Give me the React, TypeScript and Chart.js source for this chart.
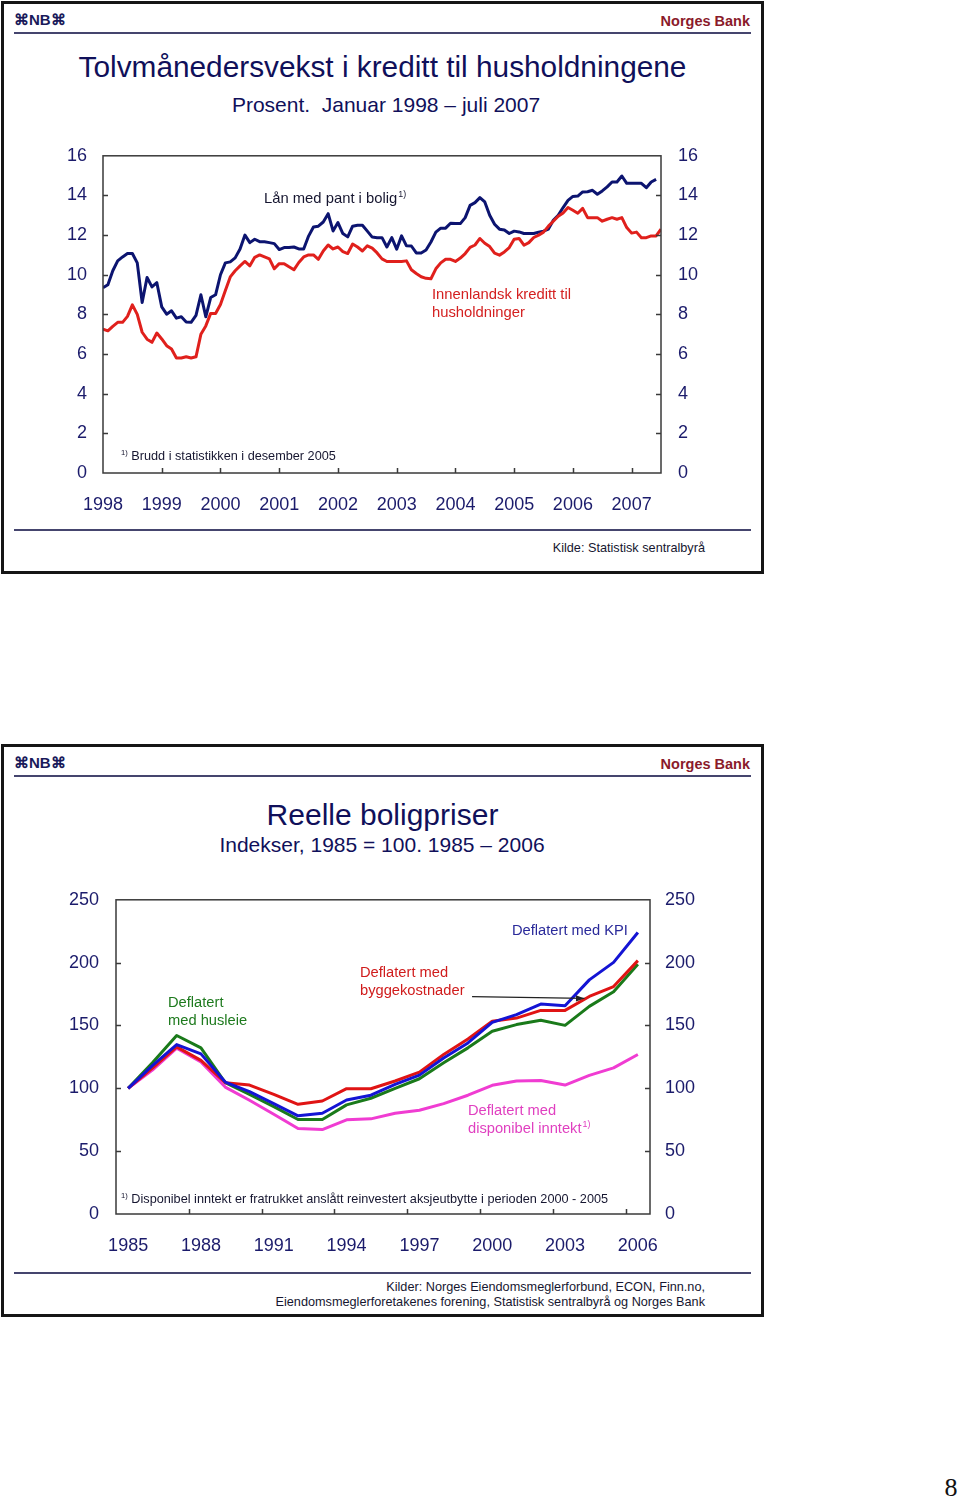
import React, { useEffect, useRef } from "react";
import { Chart, registerables } from "chart.js";

Chart.register(...registerables);

// ---------- Chart 1: twelve-month credit growth, Jan 1998 – Jul 2007 (monthly) ----------
const MONTH_INDEX = Array.from({ length: 115 }, (_, i) => i); // months since Jan 1998
const YEAR_LABELS_1 = ["1998", "1999", "2000", "2001", "2002", "2003", "2004", "2005", "2006", "2007"];
const YEAR_TICKS_1 = [0, 12, 24, 36, 48, 60, 72, 84, 96, 108];
const Y_TICKS_1 = [0, 2, 4, 6, 8, 10, 12, 14, 16];

// Lån med pant i bolig
const LAAN = [
  9.35, 9.5, 10.2, 10.7, 10.9, 11.07, 11.07, 10.6, 8.6, 9.86, 9.39, 9.6,
  8.38, 8.01, 8.18, 7.81, 7.88, 7.62, 7.6, 7.95, 8.99, 7.88, 8.85, 8.99,
  10.0, 10.6, 10.65, 10.85, 11.3, 12.0, 11.62, 11.79, 11.67, 11.66, 11.62, 11.57,
  11.27, 11.37, 11.37, 11.4, 11.3, 11.3, 11.95, 12.41, 12.45, 12.66, 13.08, 12.21,
  12.63, 12.08, 11.91, 12.45, 12.5, 12.5, 12.2, 11.9, 11.87, 11.87, 11.4, 11.87,
  11.29, 11.96, 11.46, 11.45, 11.1, 11.1, 11.25, 11.65, 12.15, 12.35, 12.35, 12.6,
  12.58, 12.58, 12.88, 13.5, 13.64, 13.89, 13.67, 13.0, 12.55, 12.3, 12.26, 12.08,
  12.2, 12.16, 12.08, 12.08, 12.08, 12.15, 12.2, 12.3, 12.75, 13.0, 13.39, 13.75,
  13.95, 13.97, 14.18, 14.19, 14.26, 14.06, 14.23, 14.43, 14.68, 14.68, 14.98, 14.61,
  14.61, 14.61, 14.61, 14.39, 14.68, 14.81, null,
];

// Innenlandsk kreditt til husholdninger
const KREDITT = [
  7.26, 7.17, 7.4, 7.6, 7.6, 7.9, 8.48, 8.0, 7.1, 6.75, 6.59, 7.06,
  6.76, 6.42, 6.25, 5.8, 5.8, 5.86, 5.8, 5.86, 7.0, 7.42, 8.05, 8.05,
  8.5, 9.2, 9.89, 10.2, 10.45, 10.67, 10.45, 10.88, 11.0, 10.9, 10.8, 10.3,
  10.56, 10.56, 10.4, 10.25, 10.62, 10.9, 11.0, 11.0, 10.78, 11.2, 11.5, 11.3,
  11.4, 11.17, 11.07, 11.55, 11.4, 11.2, 11.46, 11.34, 11.1, 10.8, 10.67, 10.67,
  10.67, 10.67, 10.7, 10.25, 10.06, 9.9, 9.82, 9.8, 10.3, 10.6, 10.78, 10.78,
  10.67, 10.84, 11.07, 11.38, 11.5, 11.83, 11.59, 11.42, 11.09, 10.99, 11.15, 11.37,
  11.79, 11.83, 11.49, 11.62, 11.88, 12.0, 12.15, 12.45, 12.7, 12.95, 13.12, 13.39,
  13.25, 13.1, 13.35, 12.88, 12.88, 12.88, 12.7, 12.8, 12.88, 12.8, 12.88, 12.38,
  12.1, 12.15, 11.87, 11.87, 11.96, 11.96, 12.3,
];

// ---------- Chart 2: real house prices, 1985–2006 (annual) ----------
const YEARS_2 = [
  "1985", "1986", "1987", "1988", "1989", "1990", "1991", "1992", "1993", "1994", "1995",
  "1996", "1997", "1998", "1999", "2000", "2001", "2002", "2003", "2004", "2005", "2006",
];
const YEAR_LABEL_EVERY = 3;
const X_TICK_BOUNDS_2 = [2.5, 5.5, 8.5, 11.5, 14.5, 17.5, 20.5];
const Y_TICKS_2 = [50, 100, 150, 200];

const KPI = [100, 118, 134.8, 127.4, 105, 97.3, 87.8, 78.1, 80.2, 90.7, 94.5, 103.2, 110.5, 124.2, 136.1, 152.5, 158.6, 167, 165.7, 186.3, 200.2, 224];
const BYGG = [100, 116, 133, 122.2, 104.5, 102.6, 95.2, 87.3, 89.9, 99.7, 99.7, 105.8, 112.9, 126.9, 139.3, 153.3, 155.9, 162, 162, 173.1, 181, 201.6];
const HUSLEIE = [100, 120.3, 142, 132.2, 104.5, 95.2, 85.4, 75.2, 75.2, 86.8, 92.1, 100, 107.6, 120.3, 132.2, 145.4, 150.7, 154.1, 150.1, 165.2, 176.8, 198.7];
const INNTEKT = [100, 114.5, 132, 121, 101, 90.5, 79.4, 68, 67.2, 74.9, 75.7, 80.2, 82.6, 87.8, 94.5, 102.4, 105.8, 106.3, 102.6, 110.3, 116.3, 126.9];

const FONT = '"Liberation Sans", Arial, Helvetica, sans-serif';
const NAVY = "#1b1b6b";
const AXIS_COLOR = "#3a3a3a";

const frameTicksPlugin = {
  id: "frameTicks",
  afterDraw(chart: any, _args: any, opts: any) {
    const { ctx, chartArea } = chart;
    const { left, right, top, bottom } = chartArea;
    const x = chart.scales.x;
    const y = chart.scales.y;
    const len = opts.len ?? 5;
    ctx.save();
    ctx.strokeStyle = AXIS_COLOR;
    ctx.lineWidth = 1.5;
    ctx.strokeRect(left, top, right - left, bottom - top);
    ctx.beginPath();
    (opts.yTicks || []).forEach((v: number) => {
      const py = Math.round(y.getPixelForValue(v)) + 0.5;
      ctx.moveTo(left, py);
      ctx.lineTo(left + len, py);
      ctx.moveTo(right, py);
      ctx.lineTo(right - len, py);
    });
    (opts.xTicks || []).forEach((v: number) => {
      const px = Math.round(x.getPixelForValue(v)) + 0.5;
      ctx.moveTo(px, bottom);
      ctx.lineTo(px, bottom - len);
    });
    ctx.stroke();
    if (opts.arrow) {
      const a = opts.arrow;
      const x0 = x.getPixelForValue(a.x0);
      const y0 = y.getPixelForValue(a.y0);
      const x1 = x.getPixelForValue(a.x1);
      const y1 = y.getPixelForValue(a.y1);
      ctx.strokeStyle = "#222";
      ctx.fillStyle = "#222";
      ctx.lineWidth = 1.2;
      ctx.beginPath();
      ctx.moveTo(x0, y0);
      ctx.lineTo(x1, y1);
      ctx.stroke();
      const ang = Math.atan2(y1 - y0, x1 - x0);
      const hl = 9;
      ctx.beginPath();
      ctx.moveTo(x1, y1);
      ctx.lineTo(x1 - hl * Math.cos(ang - 0.35), y1 - hl * Math.sin(ang - 0.35));
      ctx.lineTo(x1 - hl * Math.cos(ang + 0.35), y1 - hl * Math.sin(ang + 0.35));
      ctx.closePath();
      ctx.fill();
    }
    ctx.restore();
  },
};

const tickFont = { family: FONT, size: 18 };

function CreditChart() {
  const ref = useRef<HTMLCanvasElement | null>(null);
  useEffect(() => {
    if (!ref.current) return;
    const chart = new Chart(ref.current, {
      type: "line",
      data: {
        datasets: [
          {
            label: "Innenlandsk kreditt til husholdninger",
            data: MONTH_INDEX.map((m, i) => ({ x: m, y: KREDITT[i] })),
            borderColor: "#e0201c",
            borderWidth: 3,
            pointRadius: 0,
            borderJoinStyle: "round",
            tension: 0,
          },
          {
            label: "Lån med pant i bolig",
            data: MONTH_INDEX.map((m, i) => ({ x: m, y: LAAN[i] })),
            borderColor: "#0c1470",
            borderWidth: 3,
            pointRadius: 0,
            borderJoinStyle: "round",
            tension: 0,
          },
        ],
      },
      options: {
        responsive: false,
        animation: false,
        layout: { padding: { top: 15, left: 0, right: 0, bottom: 0 } },
        plugins: {
          legend: { display: false },
          tooltip: { enabled: false },
          frameTicks: { yTicks: [2, 4, 6, 8, 10, 12, 14], xTicks: YEAR_TICKS_1.slice(1), len: 5 },
        } as any,
        scales: {
          x: {
            type: "linear",
            min: 0,
            max: 114,
            grid: { display: false, drawTicks: false },
            border: { display: false },
            afterBuildTicks: (axis: any) => {
              axis.ticks = YEAR_TICKS_1.map((v) => ({ value: v }));
            },
            afterFit: (axis: any) => {
              axis.height = 47;
            },
            ticks: {
              autoSkip: false,
              maxRotation: 0,
              padding: 21,
              color: NAVY,
              font: tickFont,
              callback: (v: any) => YEAR_LABELS_1[YEAR_TICKS_1.indexOf(Number(v))] ?? "",
            },
          },
          y: {
            position: "left",
            min: 0,
            max: 16,
            grid: { display: false, drawTicks: false },
            border: { display: false },
            afterBuildTicks: (axis: any) => {
              axis.ticks = Y_TICKS_1.map((v) => ({ value: v }));
            },
            afterFit: (axis: any) => {
              axis.width = 83;
            },
            ticks: { padding: 16, color: NAVY, font: tickFont },
          },
          y2: {
            position: "right",
            min: 0,
            max: 16,
            grid: { display: false, drawTicks: false },
            border: { display: false },
            afterBuildTicks: (axis: any) => {
              axis.ticks = Y_TICKS_1.map((v) => ({ value: v }));
            },
            afterFit: (axis: any) => {
              axis.width = 79;
            },
            ticks: { padding: 17, color: NAVY, font: tickFont },
          },
        },
      } as any,
      plugins: [frameTicksPlugin],
    });
    return () => chart.destroy();
  }, []);
  return <canvas ref={ref} width={720} height={392} style={{ position: "absolute", left: 20, top: 128 }} />;
}

function PriceChart() {
  const ref = useRef<HTMLCanvasElement | null>(null);
  useEffect(() => {
    if (!ref.current) return;
    const mk = (label: string, data: number[], color: string) => ({
      label,
      data,
      borderColor: color,
      borderWidth: 3,
      pointRadius: 0,
      borderJoinStyle: "round",
      tension: 0,
    });
    const chart = new Chart(ref.current, {
      type: "line",
      data: {
        labels: YEARS_2,
        datasets: [
          mk("Deflatert med KPI", KPI, "#1414d4"),
          mk("Deflatert med byggekostnader", BYGG, "#e01414"),
          mk("Deflatert med husleie", HUSLEIE, "#1a7a1a"),
          mk("Deflatert med disponibel inntekt", INNTEKT, "#f03cd2"),
        ],
      },
      options: {
        responsive: false,
        animation: false,
        layout: { padding: { top: 18, left: 0, right: 0, bottom: 0 } },
        plugins: {
          legend: { display: false },
          tooltip: { enabled: false },
          frameTicks: {
            yTicks: Y_TICKS_2,
            xTicks: X_TICK_BOUNDS_2,
            len: 5,
            arrow: { x0: 14.17, y0: 173, x1: 18.8, y1: 171.5 },
          },
        } as any,
        scales: {
          x: {
            type: "category",
            offset: true,
            grid: { display: false, drawTicks: false },
            border: { display: false },
            afterFit: (axis: any) => {
              axis.height = 46;
            },
            ticks: {
              autoSkip: false,
              maxRotation: 0,
              padding: 21,
              color: NAVY,
              font: tickFont,
              callback: (_v: any, i: number) => (i % YEAR_LABEL_EVERY === 0 ? YEARS_2[i] : ""),
            },
          },
          y: {
            position: "left",
            min: 0,
            max: 250,
            grid: { display: false, drawTicks: false },
            border: { display: false },
            ticks: { stepSize: 50, padding: 17, color: NAVY, font: tickFont },
            afterFit: (axis: any) => {
              axis.width = 96;
            },
          },
          y2: {
            position: "right",
            min: 0,
            max: 250,
            grid: { display: false, drawTicks: false },
            border: { display: false },
            ticks: { stepSize: 50, padding: 15, color: NAVY, font: tickFont },
            afterFit: (axis: any) => {
              axis.width = 90;
            },
          },
        },
      } as any,
      plugins: [frameTicksPlugin],
    });
    return () => chart.destroy();
  }, []);
  return <canvas ref={ref} width={720} height={388} style={{ position: "absolute", left: 20, top: 872 }} />;
}

type TProps = {
  x: number;
  y: number;
  size: number;
  color?: string;
  align?: "left" | "center" | "right";
  bold?: boolean;
  family?: string;
  children: React.ReactNode;
};

function T({ x, y, size, color = NAVY, align = "left", bold, family = FONT, children }: TProps) {
  const style: React.CSSProperties = {
    position: "absolute",
    top: y,
    fontSize: size,
    lineHeight: 1.15,
    color,
    fontFamily: family,
    fontWeight: bold ? "bold" : "normal",
    whiteSpace: "pre",
  };
  if (align === "left") {
    style.left = x;
    style.transform = "translateY(-50%)";
  } else if (align === "center") {
    style.left = x;
    style.transform = "translate(-50%,-50%)";
  } else {
    style.right = 960 - x;
    style.transform = "translateY(-50%)";
  }
  return <div style={style}>{children}</div>;
}

const Sup = ({ children }: { children: React.ReactNode }) => (
  <span style={{ fontSize: "0.6em", verticalAlign: "0.6em", marginLeft: 1 }}>{children}</span>
);

function SlideFrame({ top }: { top: number }) {
  return (
    <>
      <div
        style={{
          position: "absolute",
          left: 1,
          top,
          width: 763,
          height: 573,
          border: "3px solid #151515",
          boxSizing: "border-box",
        }}
      />
      <div style={{ position: "absolute", left: 14, top: top + 31, width: 737, height: 2, background: "#45456e" }} />
      <div style={{ position: "absolute", left: 14, top: top + 528, width: 737, height: 2, background: "#45456e" }} />
      <T x={14} y={top + 19} size={15} bold color="#1a1a5a">
        ⌘NB⌘
      </T>
      <T x={750} y={top + 20} size={14.5} bold color="#8a1a2a" align="right">
        Norges Bank
      </T>
    </>
  );
}

export default function App() {
  return (
    <div style={{ position: "absolute", left: 0, top: 0, width: 960, height: 1501, background: "#fff", overflow: "hidden" }}>
      {/* Slide 1 */}
      <SlideFrame top={1} />
      <T x={382.5} y={67} size={29.8} align="center" color="#10105a">
        Tolvmånedersvekst i kreditt til husholdningene
      </T>
      <T x={386} y={105} size={21} align="center" color="#10105a">
        {"Prosent.  Januar 1998 – juli 2007"}
      </T>
      <CreditChart />
      <T x={264} y={198} size={14.8} color="#161630">
        Lån med pant i bolig<Sup>1)</Sup>
      </T>
      <T x={432} y={295} size={14.8} color="#d42020">
        Innenlandsk kreditt til
      </T>
      <T x={432} y={313} size={14.8} color="#d42020">
        husholdninger
      </T>
      <T x={120} y={456} size={12.7} color="#161630">
        <Sup>1)</Sup> Brudd i statistikken i desember 2005
      </T>
      <T x={705} y={548} size={12.7} color="#161630" align="right">
        Kilde: Statistisk sentralbyrå
      </T>

      {/* Slide 2 */}
      <SlideFrame top={744} />
      <T x={382.5} y={815} size={30} align="center" color="#10105a">
        Reelle boligpriser
      </T>
      <T x={382} y={845} size={21} align="center" color="#10105a">
        Indekser, 1985 = 100. 1985 – 2006
      </T>
      <PriceChart />
      <T x={512} y={930} size={14.7} color="#2a2a9a">
        Deflatert med KPI
      </T>
      <T x={360} y={972} size={14.7} color="#d01c1c">
        Deflatert med
      </T>
      <T x={360} y={990} size={14.7} color="#d01c1c">
        byggekostnader
      </T>
      <T x={168} y={1002} size={14.7} color="#1e7a1e">
        Deflatert
      </T>
      <T x={168} y={1020} size={14.7} color="#1e7a1e">
        med husleie
      </T>
      <T x={468} y={1110} size={14.7} color="#e040c0">
        Deflatert med
      </T>
      <T x={468} y={1128} size={14.7} color="#e040c0">
        disponibel inntekt<Sup>1)</Sup>
      </T>
      <T x={120} y={1199} size={12.7} color="#161630">
        <Sup>1)</Sup> Disponibel inntekt er fratrukket anslått reinvestert aksjeutbytte i perioden 2000 - 2005
      </T>
      <T x={705} y={1287} size={12.7} color="#161630" align="right">
        Kilder: Norges Eiendomsmeglerforbund, ECON, Finn.no,
      </T>
      <T x={705} y={1302} size={12.7} color="#161630" align="right">
        Eiendomsmeglerforetakenes forening, Statistisk sentralbyrå og Norges Bank
      </T>

      {/* page number */}
      <T x={951} y={1488} size={26} align="center" color="#111" family='"Liberation Serif", "Times New Roman", serif'>
        8
      </T>
    </div>
  );
}
